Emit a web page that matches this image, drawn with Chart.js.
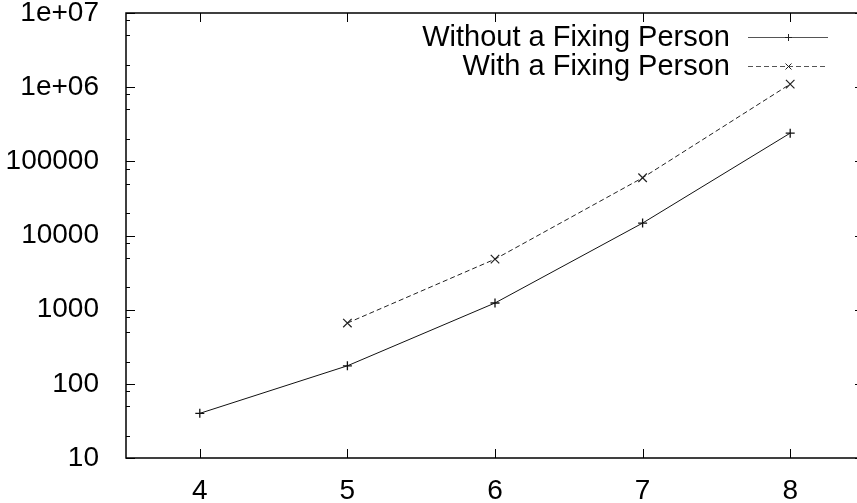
<!DOCTYPE html>
<html>
<head>
<meta charset="utf-8">
<script src="https://cdn.jsdelivr.net/npm/chart.js@4"></script>
<style>
  html, body { margin: 0; padding: 0; background: #fff; overflow: hidden; }
  #wrap { width: 880px; height: 503px; }
</style>
</head>
<body>
<div id="wrap"><canvas id="fixChart" width="880" height="503"></canvas></div>
<script>
// values
const xValues = [4, 5, 6, 7, 8];
const withoutFixing = [40, 175, 1230, 14700, 240000];
const withFixing = [null, 660, 4800, 60000, 1100000];
const seriesLabels = ['Without a Fixing Person', 'With a Fixing Person'];
const yTicks = [10, 100, 1000, 10000, 100000, 1000000, 10000000];
const yTickLabels = ['10', '100', '1000', '10000', '100000', '1e+06', '1e+07'];

const FONT = "'Liberation Sans', Arial, Helvetica, sans-serif";

function points(ys) {
  return xValues.map((x, i) => ({ x: x, y: ys[i] })).filter(p => p.y !== null);
}

// gnuplot style frame: inward ticks on all four sides, minor log ticks at 2, 5, 8
const frameTicks = {
  id: 'frameTicks',
  afterDraw(chart) {
    const { ctx, chartArea: a, scales } = chart;
    ctx.save();
    ctx.strokeStyle = '#000';
    ctx.lineWidth = 1.5;
    ctx.strokeRect(a.left, a.top, a.right - a.left, a.bottom - a.top);
    ctx.beginPath();
    xValues.forEach(v => {
      const px = Math.round(scales.x.getPixelForValue(v)) + 0.5;
      ctx.moveTo(px, a.bottom); ctx.lineTo(px, a.bottom - 9);
      ctx.moveTo(px, a.top); ctx.lineTo(px, a.top + 9);
    });
    yTicks.forEach((v, i) => {
      const py = Math.round(scales.y.getPixelForValue(v)) + 0.5;
      ctx.moveTo(a.left, py); ctx.lineTo(a.left + 9, py);
      ctx.moveTo(a.right, py); ctx.lineTo(a.right - 9, py);
      if (i < yTicks.length - 1) {
        [2, 5, 8].forEach(m => {
          const pm = Math.round(scales.y.getPixelForValue(v * m)) + 0.5;
          ctx.moveTo(a.left, pm); ctx.lineTo(a.left + 4, pm);
          ctx.moveTo(a.right, pm); ctx.lineTo(a.right - 4, pm);
        });
      }
    });
    ctx.lineWidth = 1;
    ctx.stroke();
    ctx.restore();
  }
};

// legend like gnuplot's: right aligned text, sample line on the right
const keyBox = {
  id: 'keyBox',
  afterDraw(chart) {
    const ctx = chart.ctx;
    const rows = [37, 66];
    ctx.save();
    ctx.font = '29px ' + FONT;
    ctx.fillStyle = '#000';
    ctx.textAlign = 'right';
    ctx.textBaseline = 'middle';
    chart.data.datasets.forEach((ds, i) => {
      const y = rows[i];
      ctx.fillText(ds.label, 730, y + 1);
      ctx.strokeStyle = '#555';
      ctx.lineWidth = 1;
      ctx.setLineDash(ds.borderDash || []);
      ctx.beginPath();
      ctx.moveTo(748, y + 0.5); ctx.lineTo(828, y + 0.5);
      ctx.stroke();
      ctx.setLineDash([]);
      ctx.strokeStyle = '#222';
      ctx.beginPath();
      if (ds.pointStyle === 'cross') {
        ctx.moveTo(788.5, y - 3); ctx.lineTo(788.5, y + 4);
        ctx.moveTo(785, y + 0.5); ctx.lineTo(792, y + 0.5);
      } else {
        ctx.moveTo(785.5, y - 2.5); ctx.lineTo(791.5, y + 3.5);
        ctx.moveTo(791.5, y - 2.5); ctx.lineTo(785.5, y + 3.5);
      }
      ctx.stroke();
    });
    ctx.restore();
  }
};

const ctx = document.getElementById('fixChart').getContext('2d');
const fixChart = new Chart(ctx, {
  type: 'line',
  data: {
    datasets: [{
      label: seriesLabels[0],
      data: points(withoutFixing),
      borderColor: '#111',
      borderWidth: 1,
      pointStyle: 'cross',
      pointRadius: 4.5,
      pointBorderColor: '#111',
      pointBorderWidth: 1.3,
      tension: 0
    }, {
      label: seriesLabels[1],
      data: points(withFixing),
      borderColor: '#222',
      borderWidth: 1,
      borderDash: [5, 3],
      pointStyle: 'crossRot',
      pointRadius: 6,
      pointBorderColor: '#222',
      pointBorderWidth: 1.2,
      tension: 0
    }]
  },
  options: {
    responsive: false,
    animation: false,
    layout: { padding: { top: 13, right: 16, left: 0, bottom: 0 } },
    plugins: { legend: { display: false }, tooltip: { enabled: false } },
    scales: {
      x: {
        type: 'linear',
        min: 3.5,
        max: 8.5,
        grid: { display: false },
        border: { display: false },
        afterBuildTicks: s => { s.ticks = xValues.map(v => ({ value: v })); },
        afterFit: s => { s.height = 45; s.paddingLeft = 0; s.paddingRight = 0; },
        ticks: {
          color: '#000',
          padding: 8,
          maxRotation: 0,
          font: { family: FONT, size: 28 }
        }
      },
      y: {
        type: 'logarithmic',
        min: 10,
        max: 10000000,
        grid: { display: false },
        border: { display: false },
        afterBuildTicks: s => { s.ticks = yTicks.map(v => ({ value: v })); },
        afterFit: s => { s.width = 126; s.paddingTop = 0; s.paddingBottom = 0; },
        ticks: {
          color: '#000',
          padding: 19,
          font: { family: FONT, size: 28 },
          callback: (v, i) => yTickLabels[i]
        }
      }
    }
  },
  plugins: [frameTicks, keyBox]
});
</script>
</body>
</html>
